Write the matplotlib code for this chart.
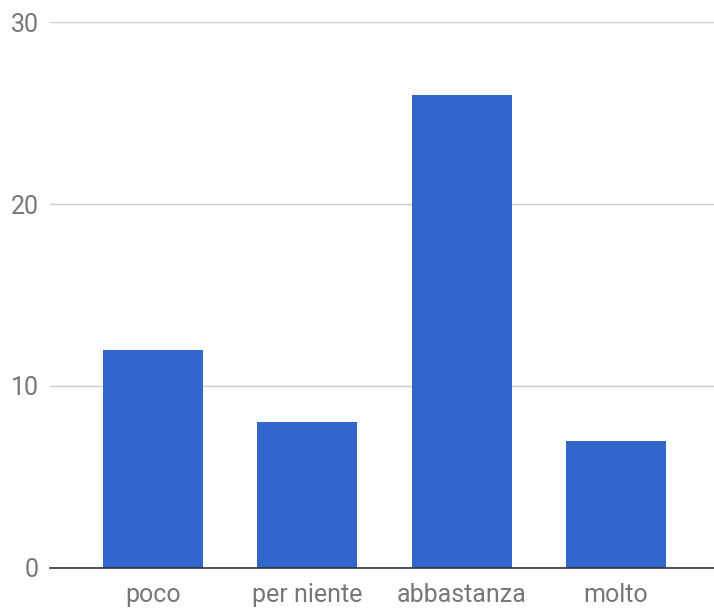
import matplotlib
matplotlib.use("Agg")
import matplotlib.pyplot as plt

# dati
categorie = ["poco", "per niente", "abbastanza", "molto"]
valori = [12, 8, 26, 7]
yticks = [0, 10, 20, 30]

plt.rcParams['font.family'] = ['Roboto', 'DejaVu Sans']

fig = plt.figure(figsize=(7.14, 6.08), dpi=100)
ax = fig.add_axes([0.070, 0.0658, 0.930, 0.898])

x = range(len(categorie))
ax.bar(x, valori, width=0.648, color="#3366cc", zorder=2)

ax.set_xlim(-0.667, 3.636)
ax.set_ylim(0, 30)
ax.set_yticks(yticks)
ax.set_xticks(list(x))
ax.set_xticklabels(categorie)

ax.grid(axis="y", color="#cccccc", linewidth=1, zorder=0)
for s in ["top", "right", "left"]:
    ax.spines[s].set_visible(False)
ax.spines["bottom"].set_color("#333333")
ax.spines["bottom"].set_linewidth(1.2)
ax.spines["bottom"].set_zorder(3)

ax.tick_params(axis="both", length=0, labelsize=18, labelcolor="#777777")
ax.tick_params(axis="y", pad=8)
ax.tick_params(axis="x", pad=11)

fig.savefig("out.png", dpi=100)
